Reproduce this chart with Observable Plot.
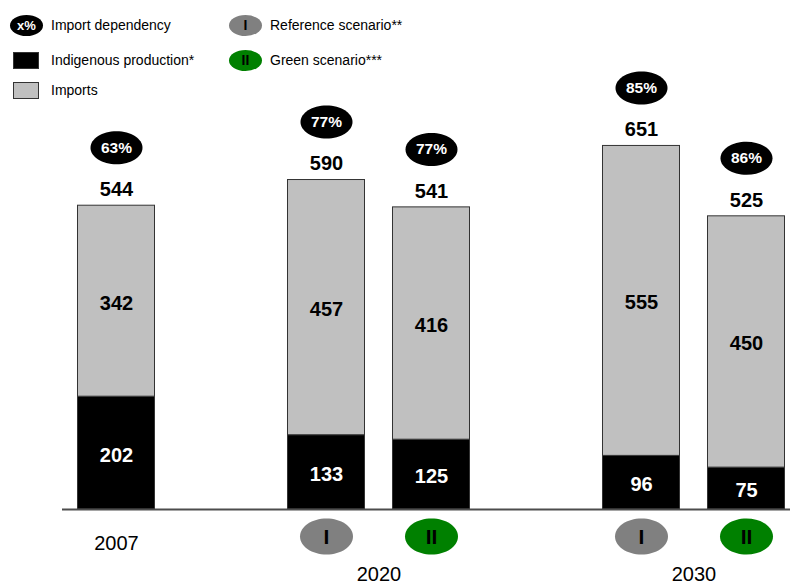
<!DOCTYPE html>
<html>
<head>
<meta charset="utf-8">
<script src="https://cdn.jsdelivr.net/npm/d3@7"></script>
<script src="https://cdn.jsdelivr.net/npm/@observablehq/plot@0.6"></script>
<style>
  html, body { margin: 0; padding: 0; background: #fff; }
  body { font-family: "Liberation Sans", Arial, sans-serif; }
  #wrap { position: relative; width: 790px; height: 585px; }
  #legend { position: absolute; left: 0; top: 0; width: 440px; height: 105px; font-size: 14px; color: #000; z-index: 1; }
  .item { position: absolute; display: flex; align-items: center; white-space: nowrap; height: 22px; }
  .sw { box-sizing: border-box; display: flex; align-items: center; justify-content: center;
        font-weight: bold; color: #fff; font-size: 13px; margin-right: 8px; }
  .oval { width: 33px; height: 21px; border-radius: 50%; }
  .box { width: 26px; height: 17px; margin-left: 3px; margin-right: 12px; border: 1px solid #333; }
  svg text { font-family: "Liberation Sans", Arial, sans-serif; }
</style>
</head>
<body>
<div id="wrap">
  <div id="legend"></div>
  <div id="chart"></div>
</div>
<script>
// Energy demand per scenario (Mtoe): indigenous production + imports = total
const groups = ["2007", "2020", "2020", "2030", "2030"];
const scenarios = ["", "I", "II", "I", "II"];
const production = [202, 133, 125, 96, 75];
const imports = [342, 457, 416, 555, 450];
const totals = [544, 590, 541, 651, 525];
const dependency = ["63%", "77%", "77%", "85%", "86%"];

const legendItems = [
  {label: "Import dependency", kind: "dependency", text: "x%"},
  {label: "Indigenous production*", kind: "production", text: ""},
  {label: "Imports", kind: "imports", text: ""},
  {label: "Reference scenario**", kind: "I", text: "I"},
  {label: "Green scenario***", kind: "II", text: "II"}
];

const colors = {
  dependency: "#000000",
  production: "#000000",
  imports: "#c0c0c0",
  outline: "#333333",
  I: "#808080",
  II: "#008000"
};

// Slot index for each bar: bars of the same year sit side by side,
// and an empty slot separates consecutive years.
const slots = [];
{
  let s = 0;
  groups.forEach((g, i) => {
    if (i > 0) s += g === groups[i - 1] ? 1 : 2;
    slots.push(s);
  });
}
const half = 0.3667;

const bars = groups.map((g, i) => ({
  group: g,
  scenario: scenarios[i],
  slot: slots[i],
  production: production[i],
  imports: imports[i],
  total: totals[i],
  dependency: dependency[i]
}));

const segments = bars.flatMap(d => [
  {slot: d.slot, y1: 0, y2: d.production, value: d.production, kind: "production"},
  {slot: d.slot, y1: d.production, y2: d.production + d.imports, value: d.imports, kind: "imports"}
]);

// Year labels: a lone bar carries its year in the scenario row,
// a pair of bars gets it centred below both.
const years = Array.from(d3.group(bars, d => d.group), ([g, rows]) => ({
  group: g,
  slot: d3.mean(rows, r => r.slot),
  single: rows.length === 1
}));

function ellipse(rx, ry) {
  const kx = rx * 0.5523, ky = ry * 0.5523;
  return {
    draw(ctx) {
      ctx.moveTo(rx, 0);
      ctx.bezierCurveTo(rx, ky, kx, ry, 0, ry);
      ctx.bezierCurveTo(-kx, ry, -rx, ky, -rx, 0);
      ctx.bezierCurveTo(-rx, -ky, -kx, -ry, 0, -ry);
      ctx.bezierCurveTo(kx, -ry, rx, -ky, rx, 0);
      ctx.closePath();
    }
  };
}

const badge = ellipse(26, 16.5);
const scenarioBadge = ellipse(26.5, 18);
const withScenario = bars.filter(d => d.scenario);

const chart = Plot.plot({
  width: 790,
  height: 585,
  marginLeft: 62,
  marginRight: 0,
  marginTop: 6.4,
  marginBottom: 76,
  x: {type: "linear", domain: [-54 / 105, 674 / 105], axis: null},
  y: {domain: [0, 900], axis: null},
  marks: [
    Plot.rect(segments, {
      x1: d => d.slot - half,
      x2: d => d.slot + half,
      y1: "y1",
      y2: "y2",
      fill: d => colors[d.kind],
      stroke: colors.outline,
      strokeWidth: 1
    }),
    Plot.ruleY([0], {stroke: "#4d4d4d", strokeWidth: 2}),
    // segment values
    Plot.text(segments, {
      x: "slot",
      y: d => (d.y1 + d.y2) / 2,
      text: d => String(d.value),
      fill: d => d.kind === "production" ? "#fff" : "#000",
      fontSize: 20,
      fontWeight: "bold",
      dy: 2
    }),
    // totals
    Plot.text(bars, {
      x: "slot", y: "total", text: d => String(d.total),
      fontSize: 20, fontWeight: "bold", fill: "#000", dy: -16
    }),
    // import dependency badges
    Plot.dot(bars, {
      x: "slot", y: "total", symbol: badge, r: 10,
      fill: colors.dependency, stroke: "none", dy: -58
    }),
    Plot.text(bars, {
      x: "slot", y: "total", text: "dependency",
      fontSize: 15.5, fontWeight: "bold", fill: "#fff", dy: -58
    }),
    // scenario badges below the axis
    Plot.dot(withScenario, {
      x: "slot", y: () => 0, symbol: scenarioBadge, r: 10,
      fill: d => colors[d.scenario], stroke: "none", dy: 27
    }),
    Plot.text(withScenario, {
      x: "slot", y: () => 0, text: "scenario",
      fontSize: 21, fontWeight: "bold", fill: "#000", dy: 28
    }),
    // years
    Plot.text(years.filter(d => d.single), {
      x: "slot", y: () => 0, text: "group", fontSize: 20, fill: "#000", dy: 34
    }),
    Plot.text(years.filter(d => !d.single), {
      x: "slot", y: () => 0, text: "group", fontSize: 20, fill: "#000", dy: 65
    })
  ]
});
document.getElementById("chart").appendChild(chart);

// Legend: two columns of swatch + label rows
const legend = document.getElementById("legend");
const rowTops = [14, 49, 79];
legendItems.forEach((it, i) => {
  const col = i < 3 ? 0 : 1;
  const row = i < 3 ? i : i - 3;
  const item = document.createElement("div");
  item.className = "item";
  item.style.left = (col === 0 ? 10 : 229) + "px";
  item.style.top = rowTops[row] + "px";
  const sw = document.createElement("div");
  const isBox = it.kind === "production" || it.kind === "imports";
  sw.className = "sw " + (isBox ? "box" : "oval");
  sw.style.background = colors[it.kind];
  sw.textContent = it.text;
  if (it.kind === "I" || it.kind === "II") { sw.style.color = "#000"; sw.style.fontSize = "14px"; }
  const lab = document.createElement("span");
  lab.textContent = it.label;
  item.appendChild(sw);
  item.appendChild(lab);
  legend.appendChild(item);
});
</script>
</body>
</html>
